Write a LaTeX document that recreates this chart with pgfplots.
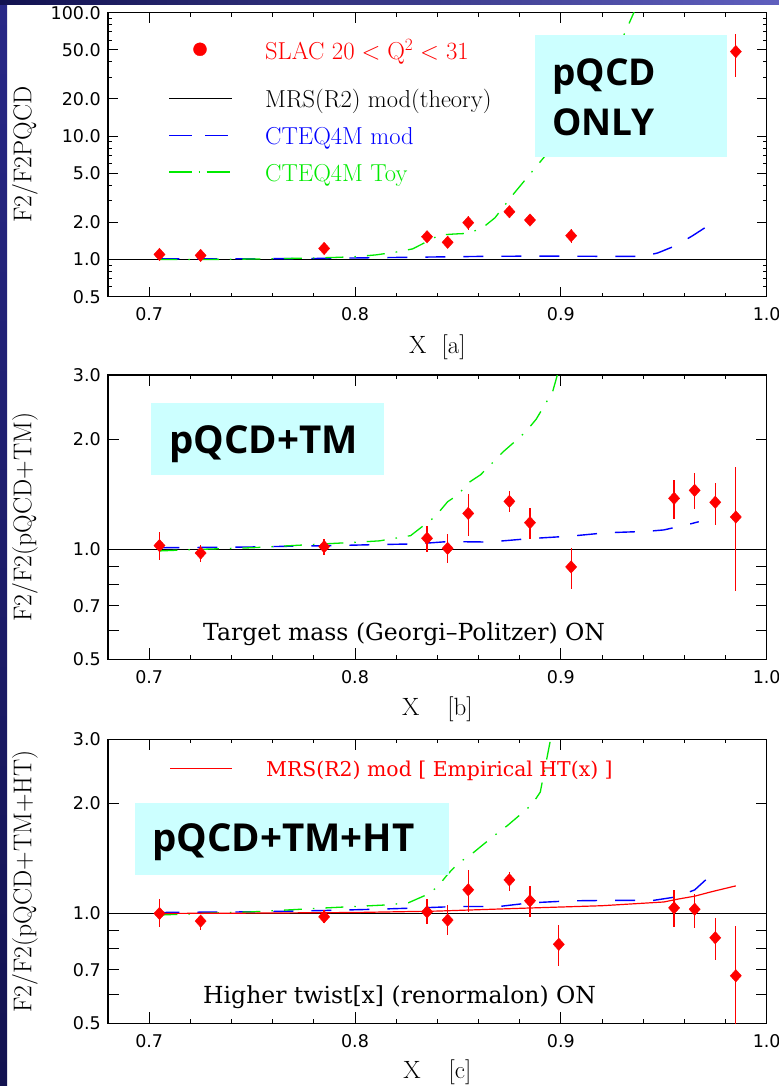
\documentclass[border=0pt]{standalone}
\usepackage{fontspec}
\usepackage{pgfplots}
\usepackage{pgfplotstable}
\pgfplotsset{compat=1.18}
\newfontfamily\tickfont{DejaVu Sans}
\newfontfamily\boxfont{Open Sans}
\newfontfamily\annfont{DejaVu Serif}
\definecolor{mygreen}{RGB}{0,235,0}
\definecolor{boxcyan}{RGB}{204,255,255}
\definecolor{navyA}{RGB}{40,40,135}
\definecolor{navyB}{RGB}{18,18,80}
\definecolor{navyC}{RGB}{95,95,190}

% ---------------- data ----------------
\pgfplotstableread{
x y ep em
0.705 1.10 0.09 0.09
0.725 1.08 0.06 0.06
0.785 1.23 0.06 0.06
0.835 1.53 0.12 0.12
0.845 1.38 0.12 0.12
0.855 1.99 0.25 0.25
0.875 2.44 0.16 0.16
0.885 2.09 0.20 0.20
0.905 1.56 0.20 0.20
0.985 48.4 18.4 18.2
}\ptsA
\pgfplotstableread{
x y
0.705 1.012
0.72 1.012
0.74 1.014
0.76 1.016
0.78 1.02
0.80 1.03
0.82 1.04
0.84 1.05
0.86 1.06
0.88 1.065
0.90 1.065
0.92 1.062
0.94 1.062
0.947 1.13
0.956 1.30
0.964 1.56
0.974 2.0
}\cteqA
\pgfplotstableread{
x y
0.705 1.0
0.72 1.0
0.74 1.005
0.76 1.015
0.78 1.03
0.79 1.04
0.80 1.055
0.81 1.09
0.82 1.15
0.828 1.22
0.835 1.40
0.841 1.58
0.848 1.61
0.855 1.63
0.862 1.81
0.868 2.18
0.877 3.4
0.887 5.4
0.895 7.8
0.905 12.9
0.915 22.9
0.925 43.6
0.931 68
0.936 105
}\toyA
\pgfplotstableread{
x y ep em
0.705 1.024 0.091 0.089
0.725 0.977 0.053 0.054
0.785 1.017 0.048 0.052
0.835 1.072 0.086 0.089
0.845 1.006 0.093 0.086
0.855 1.254 0.163 0.167
0.875 1.353 0.091 0.085
0.885 1.183 0.117 0.118
0.905 0.895 0.115 0.115
0.955 1.379 0.169 0.166
0.965 1.450 0.164 0.163
0.975 1.345 0.178 0.176
0.985 1.226 0.458 0.457
}\ptsB
\pgfplotstableread{
x y
0.705 1.01
0.725 1.012
0.75 1.015
0.77 1.02
0.79 1.024
0.81 1.03
0.83 1.035
0.845 1.05
0.865 1.047
0.885 1.07
0.905 1.087
0.922 1.11
0.942 1.12
0.95 1.13
0.956 1.15
0.962 1.17
0.967 1.19
}\cteqB
\pgfplotstableread{
x y
0.705 0.99
0.725 1.0
0.75 1.01
0.785 1.035
0.80 1.045
0.812 1.055
0.827 1.09
0.833 1.158
0.839 1.23
0.845 1.35
0.85 1.41
0.855 1.52
0.861 1.60
0.867 1.73
0.872 1.85
0.878 1.98
0.883 2.10
0.888 2.27
0.896 2.70
0.899 3.1
}\toyB
\pgfplotstableread{
x y ep em
0.705 1.000 0.092 0.084
0.725 0.953 0.036 0.051
0.785 0.979 0.040 0.040
0.835 1.010 0.083 0.077
0.845 0.959 0.095 0.087
0.855 1.161 0.153 0.151
0.875 1.236 0.062 0.081
0.885 1.083 0.107 0.108
0.899 0.823 0.104 0.103
0.955 1.036 0.127 0.120
0.965 1.027 0.107 0.117
0.975 0.858 0.111 0.113
0.985 0.675 0.248 0.250
}\ptsC
\pgfplotstableread{
x y
0.705 1.006
0.725 1.008
0.75 1.01
0.77 1.015
0.79 1.02
0.81 1.027
0.83 1.035
0.85 1.045
0.87 1.045
0.885 1.069
0.905 1.083
0.925 1.086
0.945 1.086
0.956 1.11
0.965 1.16
0.972 1.26
0.974 1.28
}\cteqC
\pgfplotstableread{
x y
0.705 0.99
0.725 1.0
0.75 1.01
0.785 1.035
0.80 1.045
0.815 1.055
0.826 1.07
0.834 1.12
0.84 1.18
0.845 1.28
0.85 1.37
0.857 1.46
0.862 1.54
0.868 1.64
0.874 1.74
0.88 1.86
0.886 1.99
0.89 2.15
0.895 3.0
0.896 3.1
}\toyC
\pgfplotstableread{
x y
0.705 1.0
0.75 1.002
0.80 1.006
0.84 1.015
0.885 1.035
0.92 1.05
0.95 1.075
0.957 1.095
0.965 1.115
0.973 1.146
0.985 1.19
}\mrsC

\begin{document}
\begin{tikzpicture}
\useasboundingbox (0,0) rectangle (779bp,-1086bp);
\fill[white] (0,0) rectangle (779bp,-1086bp);

% ================= Panel A =================
\begin{axis}[at={(108bp,-296.7bp)}, anchor=south west,
  scale only axis, width=658.7bp, height=284bp,
  ymode=log,
  xmin=0.68, xmax=1.0, ymin=0.5, ymax=100,
  xtick={0.7,0.8,0.9,1.0},
  xticklabels={0.7,0.8,0.9,1.0},
  minor xtick={0.72,0.74,0.76,0.78,0.82,0.84,0.86,0.88,0.92,0.94,0.96,0.98},
  ytick={0.5,1,2,5,10,20,50,100},
  yticklabels={0.5,1.0,2.0,5.0,10.0,20.0,50.0,100.0},
  minor ytick={0.6,0.7,0.8,0.9,3,4,6,7,8,9,30,40,60,70,80,90},
  tick align=inside,
  major tick length=10bp, minor tick length=4bp,
  axis line style={line width=1.2bp},
  tick style={line width=1bp, black},
  xticklabel style={font=\tickfont\fontsize{17.5bp}{18bp}\selectfont, inner sep=0pt, anchor=north, yshift=-11bp},
  yticklabel style={font=\tickfont\fontsize{17.5bp}{18bp}\selectfont, inner sep=0pt, anchor=east, xshift=-7bp},
  ylabel={F2/F2PQCD},
  ylabel style={at={(axis description cs:-0.126,0.5)}, anchor=center, font=\fontsize{25.7bp}{26bp}\selectfont},
  xlabel={X\hspace{15bp}[a]},
  xlabel style={at={(axis description cs:0.5,-0.179)}, anchor=center, font=\fontsize{25bp}{26bp}\selectfont},
]
\addplot[black, line width=1bp] coordinates {(0.68,1) (1.0,1)};
\addplot[blue, line width=1.4bp, dash pattern=on 20bp off 18bp] table[x=x,y=y] {\cteqA};
\addplot[mygreen, line width=1.3bp, dash pattern=on 18bp off 11bp on 1.5bp off 11bp] table[x=x,y=y] {\toyA};
\addplot[red, only marks, mark=diamond*, mark size=6.2bp, mark options={xscale=1.2, red, solid},
  error bars/.cd, y dir=both, y explicit, error mark=none,
  error bar style={red, line width=1.3bp, solid}]
  table[x=x, y=y, y error plus=ep, y error minus=em] {\ptsA};
\end{axis}

% ================= Panel B =================
\begin{axis}[at={(108bp,-659.3bp)}, anchor=south west,
  scale only axis, width=658.7bp, height=284.3bp,
  ymode=log,
  xmin=0.68, xmax=1.0, ymin=0.5, ymax=3,
  xtick={0.7,0.8,0.9,1.0},
  xticklabels={0.7,0.8,0.9,1.0},
  minor xtick={0.72,0.74,0.76,0.78,0.82,0.84,0.86,0.88,0.92,0.94,0.96,0.98},
  ytick={0.5,0.6,0.7,0.8,0.9,1,2,3},
  yticklabels={0.5,,0.7,,,1.0,2.0,3.0},
  tick align=inside,
  major tick length=11bp, minor tick length=4bp,
  axis line style={line width=1.2bp},
  tick style={line width=1bp, black},
  xticklabel style={font=\tickfont\fontsize{17.5bp}{18bp}\selectfont, inner sep=0pt, anchor=north, yshift=-11bp},
  yticklabel style={font=\tickfont\fontsize{17.5bp}{18bp}\selectfont, inner sep=0pt, anchor=east, xshift=-7bp},
  ylabel={F2/F2(pQCD+TM)},
  ylabel style={at={(axis description cs:-0.126,0.5)}, anchor=center, font=\fontsize{25.7bp}{26bp}\selectfont},
  xlabel={X\hspace{28bp}[b]},
  xlabel style={at={(axis description cs:0.5,-0.1755)}, anchor=center, font=\fontsize{25bp}{26bp}\selectfont},
]
\addplot[black, line width=1bp] coordinates {(0.68,1) (1.0,1)};
\addplot[blue, line width=1.4bp, dash pattern=on 20bp off 18bp] table[x=x,y=y] {\cteqB};
\addplot[mygreen, line width=1.3bp, dash pattern=on 18bp off 11bp on 1.5bp off 11bp] table[x=x,y=y] {\toyB};
\addplot[red, only marks, mark=diamond*, mark size=6.2bp, mark options={xscale=1.2, red, solid},
  error bars/.cd, y dir=both, y explicit, error mark=none,
  error bar style={red, line width=1.3bp, solid}]
  table[x=x, y=y, y error plus=ep, y error minus=em] {\ptsB};
\end{axis}

% ================= Panel C =================
\begin{axis}[at={(108bp,-1023.3bp)}, anchor=south west,
  scale only axis, width=658.7bp, height=284bp,
  ymode=log,
  xmin=0.68, xmax=1.0, ymin=0.5, ymax=3,
  xtick={0.7,0.8,0.9,1.0},
  xticklabels={0.7,0.8,0.9,1.0},
  minor xtick={0.72,0.74,0.76,0.78,0.82,0.84,0.86,0.88,0.92,0.94,0.96,0.98},
  ytick={0.5,0.6,0.7,0.8,0.9,1,2,3},
  yticklabels={0.5,,0.7,,,1.0,2.0,3.0},
  tick align=inside,
  major tick length=11bp, minor tick length=4bp,
  axis line style={line width=1.2bp},
  tick style={line width=1bp, black},
  xticklabel style={font=\tickfont\fontsize{17.5bp}{18bp}\selectfont, inner sep=0pt, anchor=north, yshift=-11bp},
  yticklabel style={font=\tickfont\fontsize{17.5bp}{18bp}\selectfont, inner sep=0pt, anchor=east, xshift=-7bp},
  ylabel={F2/F2(pQCD+TM+HT)},
  ylabel style={at={(axis description cs:-0.126,0.5)}, anchor=center, font=\fontsize{25.7bp}{26bp}\selectfont},
  xlabel={X\hspace{28bp}[c]},
  xlabel style={at={(axis description cs:0.5,-0.173)}, anchor=center, font=\fontsize{25bp}{26bp}\selectfont},
]
\addplot[black, line width=1bp] coordinates {(0.68,1) (1.0,1)};
\addplot[blue, line width=1.4bp, dash pattern=on 20bp off 18bp] table[x=x,y=y] {\cteqC};
\addplot[mygreen, line width=1.3bp, dash pattern=on 18bp off 11bp on 1.5bp off 11bp] table[x=x,y=y] {\toyC};
\addplot[red, line width=1.2bp] table[x=x,y=y] {\mrsC};
\addplot[red, only marks, mark=diamond*, mark size=6.2bp, mark options={xscale=1.2, red, solid},
  error bars/.cd, y dir=both, y explicit, error mark=none,
  error bar style={red, line width=1.3bp, solid}]
  table[x=x, y=y, y error plus=ep, y error minus=em] {\ptsC};
\end{axis}

% ============ legend keys (overlay axis in picture pixels) ============
\begin{axis}[at={(0bp,-1086bp)}, anchor=south west, scale only axis,
  width=779bp, height=1086bp, xmin=0, xmax=779, ymin=-1086, ymax=0,
  hide axis, clip=false]
\addplot[red, only marks, mark=*, mark size=6.5bp] coordinates {(200,-49.3)};
\addplot[black, line width=1bp] coordinates {(169,-98.3) (232,-98.3)};
\addplot[blue, line width=1.4bp, dash pattern=on 23bp off 13bp] coordinates {(169,-135.3) (232,-135.3)};
\addplot[mygreen, line width=1.3bp, dash pattern=on 23bp off 6.5bp on 1.5bp off 6.5bp] coordinates {(169,-172) (232,-172)};
\addplot[red, line width=1.2bp] coordinates {(170,-768.3) (231.7,-768.3)};
\node[anchor=base west, inner sep=0pt, text=red, font=\fontsize{24.5bp}{25bp}\selectfont] at (axis cs:265,-60) {SLAC $20<\mathrm{Q}^{2}<31$};
\node[anchor=base west, inner sep=0pt, text=black, font=\fontsize{24.5bp}{25bp}\selectfont] at (axis cs:265,-108) {MRS(R2) mod(theory)};
\node[anchor=base west, inner sep=0pt, text=blue, font=\fontsize{24.5bp}{25bp}\selectfont] at (axis cs:265,-145) {CTEQ4M mod};
\node[anchor=base west, inner sep=0pt, text=mygreen, font=\fontsize{24.5bp}{25bp}\selectfont] at (axis cs:265,-182) {CTEQ4M Toy};
\node[anchor=base west, inner sep=0pt, text=red, font=\annfont\fontsize{20.4bp}{21bp}\selectfont] at (axis cs:266,-776.7) {MRS(R2) mod [ Empirical HT(x) ]};
\end{axis}

% ============ annotation boxes and texts ============
\fill[boxcyan] (535bp,-35bp) rectangle (727bp,-157bp);
\node[anchor=base west, inner sep=0pt] at (552bp,-85bp) {\boxfont\bfseries\fontsize{37bp}{37bp}\selectfont pQCD};
\node[anchor=base west, inner sep=0pt] at (552bp,-135bp) {\boxfont\bfseries\fontsize{37bp}{37bp}\selectfont ONLY};

\fill[boxcyan] (151bp,-402.7bp) rectangle (384bp,-475bp);
\node[anchor=base west, inner sep=0pt] at (169bp,-453bp) {\boxfont\bfseries\fontsize{38.5bp}{38.5bp}\selectfont pQCD+TM};

\fill[boxcyan] (135bp,-803.3bp) rectangle (449bp,-875bp);
\node[anchor=base west, inner sep=0pt] at (152bp,-851.7bp) {\boxfont\bfseries\fontsize{38.5bp}{38.5bp}\selectfont pQCD+TM+HT};

\node[anchor=base west, inner sep=0pt] at (203bp,-640bp) {\annfont\fontsize{23.5bp}{24bp}\selectfont Target mass (Georgi–Politzer) ON};
\node[anchor=base west, inner sep=0pt] at (203bp,-1003bp) {\annfont\fontsize{23.5bp}{24bp}\selectfont Higher twist[x] (renormalon) ON};

% frame strips
\shade[top color=navyA, bottom color=navyB] (0,0) rectangle (7bp,-1086bp);
\shade[left color=navyB, right color=navyC] (0,0) rectangle (779bp,-4bp);
\end{tikzpicture}
\end{document}
